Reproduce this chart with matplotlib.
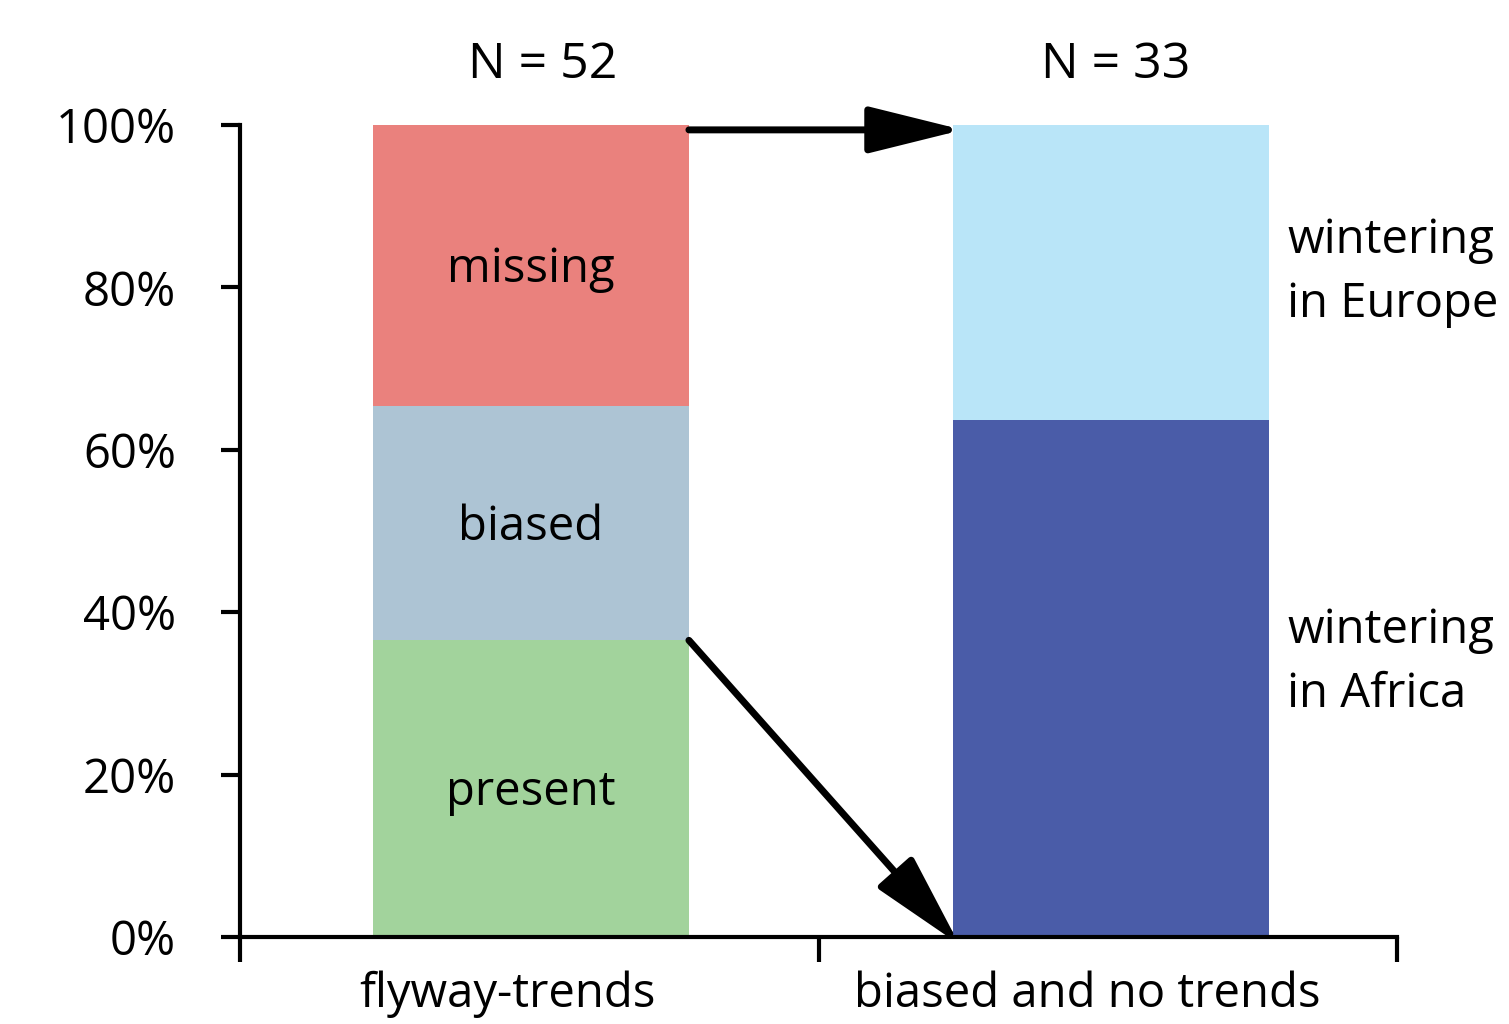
import matplotlib
matplotlib.use("Agg")
import matplotlib.pyplot as plt
from matplotlib.transforms import ScaledTranslation

plt.rcParams['font.family'] = ['Open Sans', 'DejaVu Sans']

categories = ["flyway-trends", "biased and no trends"]
n_labels = ["N = 52", "N = 33"]
# left bar: counts of 52 flyway trends
left_names = ["present", "biased", "missing"]
left_counts = [19, 15, 18]
left_colors = ["#A2D39C", "#ADC4D4", "#EA817D"]
# right bar: 33 biased / no-trend species
right_names = ["wintering\nin Africa", "wintering\nin Europe"]
right_counts = [21, 12]
right_colors = ["#4A5CA8", "#B9E5F8"]
yticks = [0, 0.2, 0.4, 0.6, 0.8, 1.0]
yticklabels = ["0%", "20%", "40%", "60%", "80%", "100%"]

fig = plt.figure(figsize=(15.09, 10.24), dpi=100)
ax = fig.add_axes([240/1509, 87/1024, (1397-240)/1509, (937-125)/1024])
ax.set_xlim(0, 2)
ax.set_ylim(0, 1)
width = 0.546
xpos = [0.503, 1.505]

fs = 34
tot = sum(left_counts)
bottom = 0
for name, c, col in zip(left_names, left_counts, left_colors):
    h = c / tot
    ax.bar(xpos[0], h, width, bottom=bottom, color=col, linewidth=0)
    ax.text(xpos[0], bottom + h / 2 - 0.005, name, ha='center', va='center', fontsize=fs)
    bottom += h
tot2 = sum(right_counts)
bottom = 0
label_dy = [0.02, 0.0]
for name, c, col, dy in zip(right_names, right_counts, right_colors, label_dy):
    h = c / tot2
    ax.bar(xpos[1], h, width, bottom=bottom, color=col, linewidth=0)
    ax.text(xpos[1] + width / 2 + 0.032, bottom + h / 2 + dy, name, ha='left', va='center',
            fontsize=fs, linespacing=1.45, clip_on=False)
    bottom += h

for x, t, dx in zip(xpos, n_labels, [0.021, 0.008]):
    ax.text(x + dx, 1.073, t, ha='center', va='center', fontsize=fs + 2, clip_on=False)

for x, t in zip(xpos, categories):
    ax.text(x - 0.04, -0.07, t, ha='center', va='center', fontsize=fs, clip_on=False)

# arrows
x_right_edge = xpos[0] + width / 2
x_left_edge = xpos[1] - width / 2
boundary = left_counts[0] / tot
aprops = dict(arrowstyle='-|>,head_length=2.9,head_width=0.72', mutation_scale=20,
              lw=5, color='black', shrinkA=0, shrinkB=0)
# small display-space extension so the filled head tip touches the target point
t_h = ax.transData + ScaledTranslation(0.10, 0, fig.dpi_scale_trans)
t_d = ax.transData + ScaledTranslation(0.066, -0.075, fig.dpi_scale_trans)
ax.annotate('', xy=(x_left_edge, 0.994), xycoords=t_h,
            xytext=(x_right_edge, 0.994), textcoords='data', arrowprops=aprops,
            annotation_clip=False)
ax.annotate('', xy=(x_left_edge, 0.0), xycoords=t_d,
            xytext=(x_right_edge, boundary), textcoords='data', arrowprops=aprops,
            annotation_clip=False)

for s in ['top', 'right']:
    ax.spines[s].set_visible(False)
ax.spines['left'].set_linewidth(3)
ax.spines['bottom'].set_linewidth(3)
ax.set_yticks(yticks)
ax.set_yticklabels(yticklabels, fontsize=fs)
ax.set_xticks([0, 1, 2])
ax.set_xticklabels([])
ax.tick_params(axis='y', length=14, width=3, pad=32)
ax.tick_params(axis='x', length=18, width=3)
fig.savefig("out.png", dpi=100)
